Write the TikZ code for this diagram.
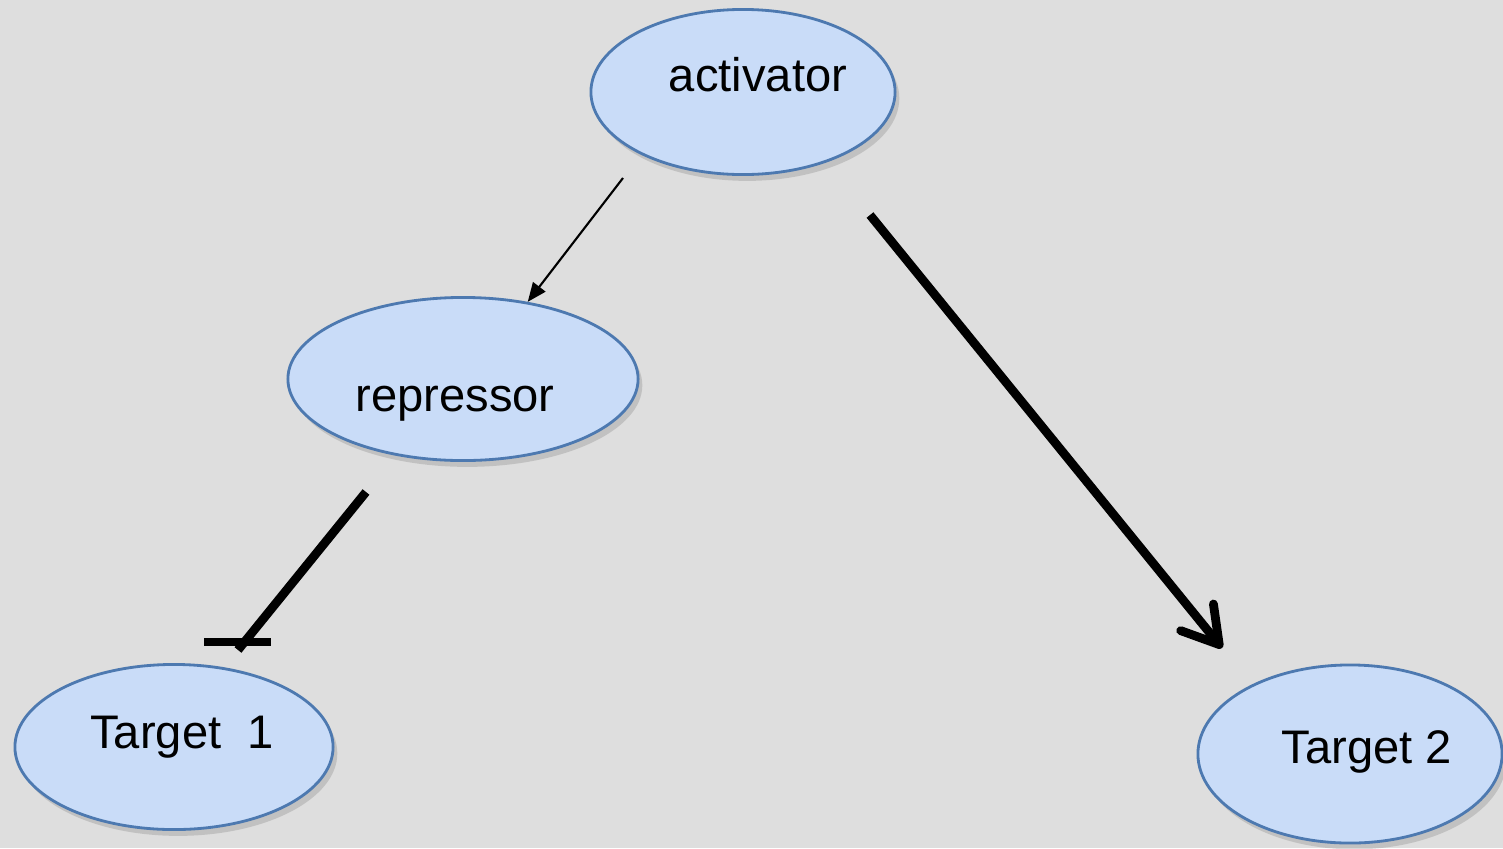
\documentclass[tikz,border=0pt]{standalone}
\usepackage{fontspec}
\setmainfont{Liberation Sans}
\usetikzlibrary{arrows.meta,calc,shapes.geometric,shadows}
\definecolor{canvas}{HTML}{DEDEDE}
\definecolor{genefill}{HTML}{C9DCF8}
\definecolor{geneline}{HTML}{4D79B0}
\tikzset{gene/.style={ellipse, draw=geneline, line width=0.8pt, fill=genefill, inner sep=0pt,
    drop shadow={shadow xshift=1.2pt, shadow yshift=-1.8pt, opacity=0.3}},
  tag/.style={anchor=base, inner sep=0pt, font=\fontsize{13.4}{16}\selectfont},
  thinarr/.style={-{Triangle[length=5.4pt, width=4.4pt]}, line width=0.6pt},
  induce/.style={-{Straight Barb[length=10pt, width=12pt, round]}, line width=2.5pt},
  inhib/.style={line width=2.5pt}}

\begin{document}
\begin{tikzpicture}[x=0.01cm, y=-0.01cm]
  \fill[canvas] (0,0) rectangle (1503,848);
  \useasboundingbox (0,0) rectangle (1503,848);
  % the four genes
  \node[gene, minimum width=3.04cm, minimum height=1.65cm] (act) at (743,92) {};
  \node[gene, minimum width=3.50cm, minimum height=1.63cm] (rep) at (463,379) {};
  \node[gene, minimum width=3.18cm, minimum height=1.65cm] (tg1) at (174,747) {};
  \node[gene, minimum width=3.04cm, minimum height=1.78cm] (tg2) at (1350,754) {};
  % names sit a bit off centre
  \node[tag] (actname) at (758,91) {activator};
  \node[tag] (repname) at (455,411) {repressor};
  \node[tag] (tg1name) at (182,748) {Target\ \ 1};
  \node[tag] (tg2name) at (1367,763) {Target 2};
  % loose ends of the links
  \coordinate (actL) at ($(act.center)+(-120,86)$);
  \coordinate (actR) at ($(act.center)+(127,123)$);
  \coordinate (repB) at ($(rep.center)+(-97,113)$);
  \coordinate (tg1in) at ($(tg1.center)+(64,-97)$);
  \coordinate (tg2in) at ($(tg2.center)+(-128,-106)$);
  \draw[thinarr] (actL) -- (rep.50);
  \draw[induce] (actR) -- (tg2in);
  \draw[inhib] (repB) -- (tg1in);
  % flat bar of the repression
  \draw[inhib, line width=2pt] ($(tg1in)+(-34,-8)$) -- ++(67,0);
\end{tikzpicture}
\end{document}
